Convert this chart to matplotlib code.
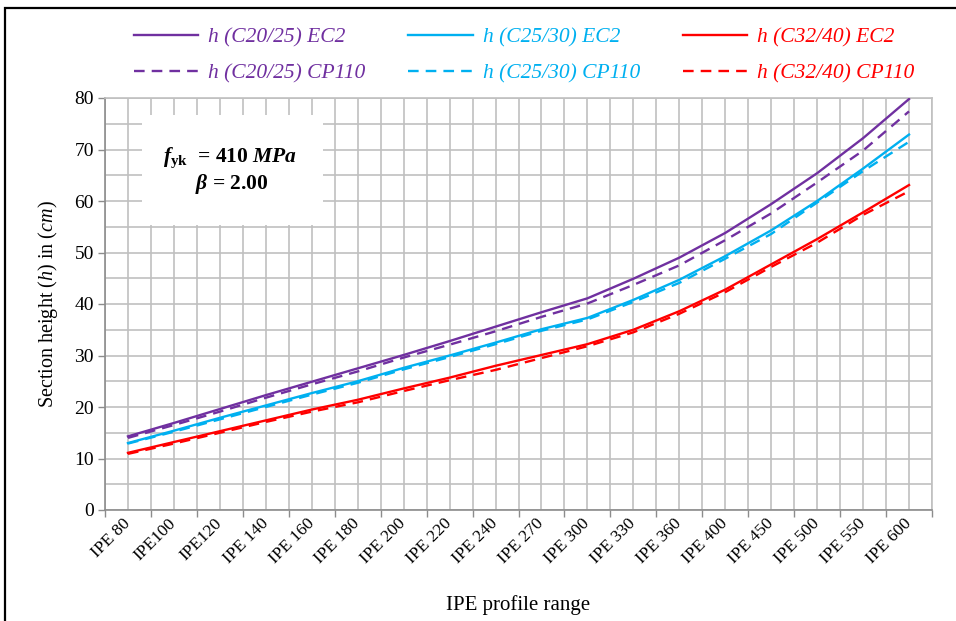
import matplotlib
matplotlib.use("Agg")
import matplotlib.pyplot as plt
import matplotlib.ticker as mtick
from matplotlib.patches import Rectangle

# ── 数据 ───────────────────────────────────────────────
profiles = ["IPE 80", "IPE100", "IPE120", "IPE 140", "IPE 160", "IPE 180",
            "IPE 200", "IPE 220", "IPE 240", "IPE 270", "IPE 300", "IPE 330",
            "IPE 360", "IPE 400", "IPE 450", "IPE 500", "IPE 550", "IPE 600"]

h_c20_ec2 = [14.3, 16.9, 19.6, 22.3, 24.9, 27.5, 30.1, 32.8, 35.6, 38.4,
             41.1, 44.9, 49.0, 53.8, 59.4, 65.4, 72.2, 79.8]
h_c20_cp = [14.0, 16.5, 19.1, 21.8, 24.4, 26.9, 29.6, 32.1, 34.7, 37.5,
            40.1, 43.7, 47.5, 52.4, 57.6, 63.6, 69.8, 77.4]
h_c25_ec2 = [13.0, 15.4, 17.9, 20.3, 22.7, 25.0, 27.6, 30.0, 32.5, 35.1,
             37.3, 40.8, 44.7, 49.3, 54.3, 60.0, 66.3, 72.9]
h_c25_cp = [12.9, 15.2, 17.6, 20.0, 22.4, 24.7, 27.3, 29.7, 32.2, 34.8,
            37.0, 40.4, 44.1, 48.8, 53.6, 59.7, 65.8, 71.5]
h_c32_ec2 = [11.1, 13.2, 15.3, 17.4, 19.5, 21.4, 23.6, 25.7, 28.0, 30.1,
             32.2, 35.0, 38.6, 42.8, 47.7, 52.6, 57.8, 63.1]
h_c32_cp = [10.9, 12.9, 15.0, 17.1, 19.1, 20.9, 23.1, 25.2, 27.2, 29.5,
            31.8, 34.5, 38.1, 42.3, 47.2, 51.9, 57.3, 61.9]

series = [
    ("h (C20/25) EC2",   h_c20_ec2, "#7030A0", "-"),
    ("h (C20/25) CP110", h_c20_cp,  "#7030A0", "--"),
    ("h (C25/30) EC2",   h_c25_ec2, "#00B0F0", "-"),
    ("h (C25/30) CP110", h_c25_cp,  "#00B0F0", "--"),
    ("h (C32/40) EC2",   h_c32_ec2, "#FF0000", "-"),
    ("h (C32/40) CP110", h_c32_cp,  "#FF0000", "--"),
]

# ── 样式 ───────────────────────────────────────────────
plt.rcParams.update({
    "font.family": ["Liberation Serif", "DejaVu Serif"],
    "mathtext.fontset": "custom",
    "mathtext.rm": "Liberation Serif",
    "mathtext.it": "Liberation Serif:italic",
    "mathtext.bf": "Liberation Serif:bold",
    "mathtext.bfit": "Liberation Serif:italic:bold",
})

grid_c = "#C0C0C0"
axis_c = "#8C8C8C"

fig = plt.figure(figsize=(9.56, 6.21), dpi=100)
ax = fig.add_axes([105 / 956, 1 - 510 / 621, 827 / 956, 412 / 621])

x = list(range(len(profiles)))
for name, vals, color, ls in series:
    ax.plot(x, vals, color=color, linestyle=ls, linewidth=1.7,
            dashes=(4.5, 3) if ls == "--" else (None, None), label=name, zorder=3)

ax.set_xlim(-0.5, len(profiles) - 0.5)
ax.set_ylim(0, 80)

# 类别刻度在边界，标签在中心
ax.xaxis.set_major_locator(mtick.FixedLocator([i - 0.5 for i in range(len(profiles) + 1)]))
ax.xaxis.set_major_formatter(mtick.NullFormatter())
ax.xaxis.set_minor_locator(mtick.FixedLocator(x))
ax.xaxis.set_minor_formatter(mtick.FixedFormatter(profiles))
ax.tick_params(axis="x", which="major", length=5, width=1, color=axis_c, direction="out")
ax.tick_params(axis="x", which="minor", length=0, labelsize=12.5, pad=8)
for lbl in ax.get_xticklabels(minor=True):
    lbl.set_rotation(45)
    lbl.set_ha("right")
    lbl.set_va("center")
    lbl.set_rotation_mode("anchor")

ax.yaxis.set_major_locator(mtick.MultipleLocator(10))
ax.yaxis.set_minor_locator(mtick.MultipleLocator(5))
ax.tick_params(axis="y", which="major", length=5, width=1, color=axis_c,
               labelsize=14, pad=3)
ax.tick_params(axis="y", which="minor", length=0)

ax.grid(True, which="both", color=grid_c, linewidth=1.2, zorder=0)
ax.set_axisbelow(True)
for side in ["top", "right"]:
    ax.spines[side].set_color(grid_c)
    ax.spines[side].set_linewidth(1.2)
for side in ["left", "bottom"]:
    ax.spines[side].set_color(axis_c)
    ax.spines[side].set_linewidth(1.2)

ax.set_xlabel("IPE profile range", fontsize=15, labelpad=20)
ax.set_ylabel(r"Section height ($\mathit{h}$) in ($\mathit{cm}$)", fontsize=14.5, labelpad=10)

# 参数说明框
ax.add_patch(Rectangle((37 / 827, 285 / 412), 181 / 827, 110 / 412,
                       transform=ax.transAxes, facecolor="white",
                       edgecolor="none", zorder=2))
ax.text(125 / 827, 352 / 412, r"$\mathbfit{f}_{\mathbf{yk}}$  = 410 $\mathbfit{MPa}$",
        transform=ax.transAxes, ha="center", va="center",
        fontsize=15.5, fontweight="bold", zorder=4)
ax.text(127 / 827, 326 / 412, r"$\mathbfit{\beta}$ = 2.00",
        transform=ax.transAxes, ha="center", va="center",
        fontsize=15.5, fontweight="bold", zorder=4)

# 图例
leg = fig.legend(loc="center", bbox_to_anchor=(524 / 956, 1 - 55.5 / 621), ncol=3,
                 frameon=False, handlelength=3.0, handletextpad=0.45,
                 columnspacing=2.0, labelspacing=0.7,
                 prop={"family": "Liberation Serif", "style": "italic", "size": 15.5})
for txt, line in zip(leg.get_texts(), leg.get_lines()):
    txt.set_color(line.get_color())

# 外框
fig.add_artist(Rectangle((5 / 956, -0.1), 1.2, 1.1 - 8 / 621,
                         transform=fig.transFigure, fill=False,
                         edgecolor="black", linewidth=1.6))

fig.savefig("out.png", dpi=100)
